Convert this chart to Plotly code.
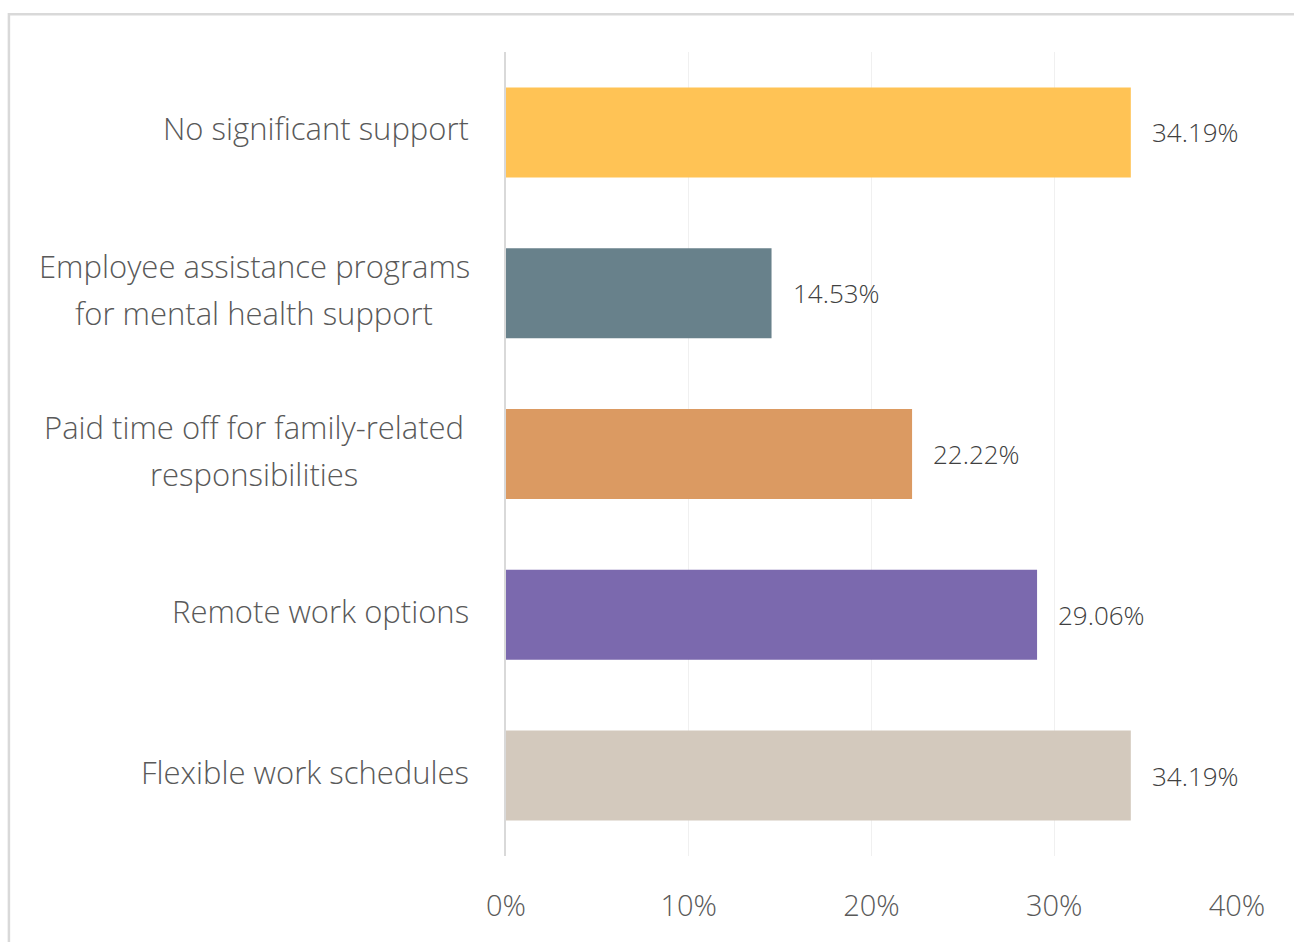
import plotly.graph_objects as go

# Survey responses, listed top to bottom (each label split into its display lines)
categories = [
    "No significant support",
    "Employee assistance programs for mental health support",
    "Paid time off for family-related responsibilities",
    "Remote work options",
    "Flexible work schedules",
]
category_lines = [
    ["No significant support"],
    ["Employee assistance programs", "for mental health support"],
    ["Paid time off for family-related", "responsibilities"],
    ["Remote work options"],
    ["Flexible work schedules"],
]
values = [34.19, 14.53, 22.22, 29.06, 34.19]
bar_colors = ["#FFC355", "#68818B", "#DB9A62", "#7B69AE", "#D3C9BD"]
tick_values = [0, 10, 20, 30, 40]
tick_labels = ["0%", "10%", "20%", "30%", "40%"]

FONT = "Open Sans"
TEXT_COLOR = "#595959"
LABEL_SIZE = 31
LINE_GAP = 47          # px between lines of a wrapped category label
LEFT_MARGIN = 506
PLOT_W = 1294 - LEFT_MARGIN - 57

fig = go.Figure(
    go.Bar(
        x=values,
        y=categories,
        orientation="h",
        marker=dict(color=bar_colors, line=dict(width=0)),
        hoverinfo="skip",
    )
)

# Value labels placed just past each bar end
annotations = [
    dict(
        x=v, y=c, xref="x", yref="y",
        text=f"{v:.2f}%", showarrow=False,
        xanchor="left", xshift=19,
        font=dict(family=FONT, size=26, color="#404040", weight=300),
    )
    for c, v in zip(categories, values)
]

# Category labels to the left of the axis; wrapped labels are centred line by line
label_right = -35 / PLOT_W               # right edge of single-line labels (paper units)
wrapped_center = (254 - LEFT_MARGIN) / PLOT_W
for c, lines in zip(categories, category_lines):
    n = len(lines)
    for i, line in enumerate(lines):
        offset = ((n - 1) / 2 - i) * LINE_GAP
        if n == 1:
            pos = dict(x=label_right, xanchor="right")
        else:
            pos = dict(x=wrapped_center, xanchor="center")
        annotations.append(
            dict(
                y=c, xref="paper", yref="y",
                text=line, showarrow=False,
                yshift=offset + 4,
                font=dict(family=FONT, size=LABEL_SIZE, color=TEXT_COLOR, weight=300),
                **pos,
            )
        )

fig.update_layout(
    width=1294,
    height=942,
    margin=dict(l=LEFT_MARGIN, r=57, t=52, b=86),
    paper_bgcolor="white",
    plot_bgcolor="white",
    showlegend=False,
    bargap=0.44,
    annotations=annotations,
    shapes=[
        # light frame around the chart card
        dict(
            type="rect", xref="paper", yref="paper",
            x0=-0.68, x1=1.2, y0=-0.2, y1=1.047,
            line=dict(color="#D9D9D9", width=2.5),
            fillcolor="rgba(0,0,0,0)", layer="below",
        )
    ],
    xaxis=dict(
        range=[0, 40],
        tickvals=tick_values,
        ticktext=tick_labels,
        showgrid=True,
        gridcolor="#F0F0F0",
        gridwidth=1,
        zeroline=False,
        showline=False,
        ticks="outside",
        ticklen=24,
        tickcolor="rgba(0,0,0,0)",
        tickfont=dict(family=FONT, size=29, color=TEXT_COLOR, weight=300),
        fixedrange=True,
    ),
    yaxis=dict(
        autorange="reversed",
        showticklabels=False,
        showgrid=False,
        zeroline=False,
        showline=True,
        linecolor="#D9D9D9",
        linewidth=2,
        ticks="",
        fixedrange=True,
    ),
)

fig.write_html("out.html", config={"displayModeBar": False})
